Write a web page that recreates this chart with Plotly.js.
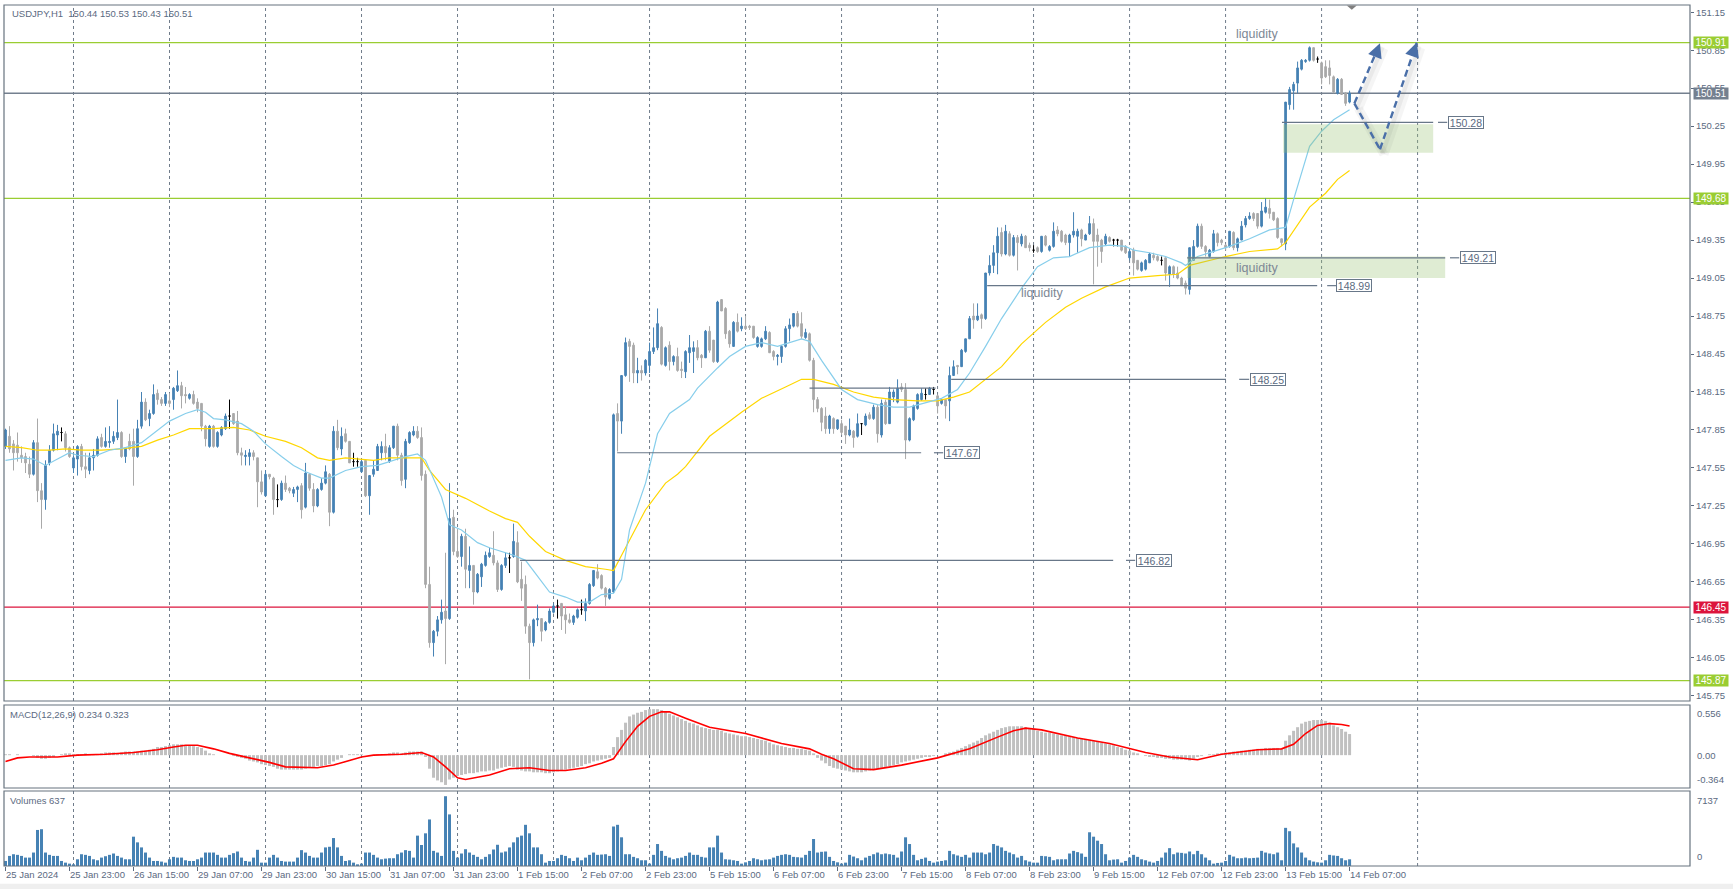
<!DOCTYPE html>
<html>
<head>
<meta charset="utf-8">
<script src="https://cdn.plot.ly/plotly-3.0.1.min.js"></script>
<style>
html,body{margin:0;padding:0;background:#ffffff;overflow:hidden;}
#chart{width:1733px;height:889px;}
</style>
</head>
<body>
<div id="chart"></div>
<script>
// ---------------- DATA ----------------
const symbolTitle = "USDJPY,H1\u00a0\u00a0150.44 150.53 150.43 150.51";
const macdTitle = "MACD(12,26,9) 0.234 0.323";
const volumeTitle = "Volumes 637";

const timeLabels = ["25 Jan 2024","25 Jan 23:00","26 Jan 15:00","29 Jan 07:00","29 Jan 23:00","30 Jan 15:00",
  "31 Jan 07:00","31 Jan 23:00","1 Feb 15:00","2 Feb 07:00","2 Feb 23:00","5 Feb 15:00","6 Feb 07:00",
  "6 Feb 23:00","7 Feb 15:00","8 Feb 07:00","8 Feb 23:00","9 Feb 15:00","12 Feb 07:00","12 Feb 23:00",
  "13 Feb 15:00","14 Feb 07:00"];
const timeLabelBars = [0,16,32,48,64,80,96,112,128,144,160,176,192,208,224,240,256,272,288,304,320,336];

const priceTicks = [151.15,150.85,150.55,150.25,149.95,149.65,149.35,149.05,148.75,148.45,148.15,147.85,
  147.55,147.25,146.95,146.65,146.35,146.05,145.75];

const open = [
147.72,147.80,147.74,147.73,147.65,147.64,147.58,147.50,147.75,147.37,147.30,147.59,147.69,147.81,147.83,147.82,
147.71,147.55,147.62,147.72,147.56,147.53,147.63,147.65,147.79,147.72,147.75,147.76,147.79,147.83,147.64,147.76,
147.76,147.64,147.88,148.07,147.94,147.98,148.14,148.09,148.06,148.08,148.09,148.16,148.20,148.13,148.10,148.13,
148.07,148.06,147.88,147.72,147.88,147.72,147.81,147.86,147.96,147.98,147.92,147.67,147.64,147.64,147.67,147.63,
147.44,147.33,147.50,147.47,147.30,147.30,147.43,147.39,147.35,147.38,147.41,147.24,147.50,147.38,147.25,147.38,
147.43,147.50,147.20,147.84,147.70,147.82,147.76,147.60,147.60,147.52,147.61,147.33,147.50,147.53,147.67,147.72,
147.60,147.71,147.88,147.65,147.46,147.75,147.81,147.84,147.79,147.50,146.63,146.17,146.26,146.35,146.42,146.36,
147.16,146.89,146.85,147.01,146.74,146.78,146.57,146.69,146.78,146.85,146.86,146.80,146.59,146.78,146.84,146.85,
146.96,146.67,146.63,146.30,146.17,146.35,146.36,146.27,146.33,146.41,146.46,146.48,146.39,146.35,146.33,146.37,
146.43,146.42,146.48,146.62,146.73,146.70,146.60,146.52,146.57,147.98,147.92,148.28,148.55,148.52,148.30,148.32,
148.30,148.36,148.47,148.50,148.66,148.36,148.52,148.39,148.43,148.33,148.31,148.46,148.47,148.50,148.44,148.42,
148.63,148.56,148.39,148.88,148.81,148.63,148.51,148.70,148.65,148.67,148.67,148.67,148.51,148.51,148.57,148.62,
148.47,148.43,148.43,148.51,148.65,148.67,148.77,148.69,148.58,148.61,148.40,148.09,148.02,147.96,147.86,147.94,
147.86,147.90,147.88,147.81,147.84,147.80,147.90,147.89,147.97,147.94,148.03,147.81,148.07,147.90,148.11,148.07,
148.19,148.17,147.77,147.93,148.02,148.09,148.13,148.13,148.17,148.12,148.06,148.09,148.08,148.28,148.36,148.35,
148.47,148.57,148.75,148.72,148.76,148.73,149.09,149.15,149.25,149.41,149.24,149.40,149.23,149.37,149.32,149.38,
149.31,149.27,149.29,149.26,149.38,149.27,149.30,149.43,149.42,149.39,149.33,149.39,149.38,149.43,149.35,149.40,
149.48,149.39,149.35,149.32,149.37,149.35,149.35,149.35,149.30,149.21,149.27,149.19,149.11,149.12,149.17,149.23,
149.22,149.19,149.21,149.08,149.14,149.09,149.05,149.01,148.96,149.19,149.30,149.46,149.30,149.22,149.26,149.40,
149.35,149.31,149.30,149.41,149.29,149.35,149.47,149.52,149.56,149.56,149.46,149.57,149.60,149.57,149.52,149.36,
149.32,150.42,150.53,150.59,150.70,150.76,150.77,150.87,150.78,150.75,150.72,150.71,150.64,150.51,150.62,150.51,
150.44];

const high = [
147.86,147.88,147.77,147.83,147.72,147.67,147.64,147.77,147.94,147.43,147.61,147.73,147.90,147.89,147.87,147.84,
147.72,147.65,147.73,147.74,147.67,147.67,147.70,147.80,147.82,147.87,147.88,147.84,148.09,147.84,147.71,147.82,
147.86,147.93,148.15,148.10,148.01,148.21,148.17,148.11,148.15,148.14,148.19,148.32,148.23,148.19,148.14,148.16,
148.10,148.06,147.89,147.89,147.89,147.84,147.88,147.98,148.09,147.98,148.00,147.71,147.69,147.70,147.69,147.63,
147.53,147.53,147.50,147.48,147.42,147.45,147.49,147.40,147.40,147.41,147.43,147.59,147.51,147.43,147.39,147.47,
147.57,147.51,147.88,147.93,147.87,147.86,147.76,147.67,147.63,147.61,147.61,147.49,147.61,147.74,147.76,147.82,
147.73,147.88,147.90,147.67,147.78,147.84,147.88,147.88,147.87,147.53,146.77,146.27,146.38,146.51,146.88,147.43,
147.22,147.07,147.03,147.07,146.93,146.78,146.72,146.80,146.89,146.92,147.05,146.82,146.79,146.88,146.88,147.11,
147.05,146.81,146.70,146.32,146.36,146.47,146.36,146.34,146.44,146.48,146.51,146.48,146.46,146.40,146.39,146.44,
146.51,146.52,146.64,146.74,146.79,146.71,146.61,146.60,147.98,148.06,148.28,148.58,148.57,148.54,148.42,148.36,
148.41,148.54,148.66,148.81,148.67,148.51,148.55,148.44,148.50,148.39,148.48,148.60,148.55,148.56,148.45,148.64,
148.67,148.56,148.87,148.88,148.82,148.64,148.71,148.77,148.74,148.75,148.68,148.67,148.59,148.58,148.67,148.63,
148.48,148.45,148.52,148.67,148.73,148.77,148.79,148.78,148.65,148.62,148.42,148.11,148.03,148.03,147.97,147.95,
147.93,147.93,147.88,147.94,147.85,147.98,147.90,147.98,147.99,148.05,148.05,148.09,148.09,148.19,148.17,148.25,
148.22,148.22,147.95,148.05,148.14,148.18,148.18,148.19,148.19,148.13,148.10,148.09,148.35,148.40,148.36,148.49,
148.57,148.75,148.85,148.85,148.77,149.09,149.23,149.31,149.45,149.45,149.47,149.42,149.39,149.39,149.40,149.39,
149.33,149.31,149.30,149.38,149.39,149.31,149.49,149.46,149.43,149.40,149.40,149.57,149.44,149.44,149.40,149.54,
149.52,149.44,149.36,149.40,149.38,149.36,149.36,149.35,149.31,149.27,149.29,149.19,149.18,149.20,149.25,149.25,
149.23,149.22,149.21,149.15,149.15,149.14,149.06,149.03,149.29,149.35,149.48,149.48,149.31,149.28,149.43,149.41,
149.36,149.32,149.42,149.42,149.37,149.50,149.54,149.57,149.57,149.56,149.65,149.68,149.67,149.57,149.53,149.36,
150.44,150.56,150.60,150.76,150.78,150.78,150.88,150.87,150.80,150.76,150.77,150.77,150.65,150.63,150.63,150.52,
150.53];

const low = [
147.70,147.67,147.53,147.60,147.59,147.51,147.47,147.49,147.28,147.07,147.22,147.57,147.68,147.69,147.76,147.68,
147.63,147.51,147.49,147.53,147.47,147.50,147.53,147.64,147.71,147.71,147.71,147.74,147.77,147.63,147.59,147.69,
147.41,147.63,147.86,147.92,147.88,147.97,148.05,148.04,148.04,148.03,148.01,148.15,148.02,148.06,148.09,148.05,
147.99,147.84,147.72,147.71,147.71,147.71,147.80,147.85,147.86,147.89,147.65,147.57,147.57,147.57,147.61,147.24,
147.34,147.32,147.46,147.18,147.24,147.29,147.36,147.35,147.32,147.28,147.15,147.23,147.37,147.20,147.24,147.37,
147.42,147.09,147.19,147.69,147.65,147.75,147.59,147.56,147.56,147.51,147.32,147.18,147.48,147.53,147.61,147.61,
147.59,147.70,147.61,147.41,147.39,147.74,147.80,147.78,147.45,146.60,146.13,146.06,146.22,146.32,146.00,146.35,
146.86,146.84,146.77,146.60,146.60,146.47,146.56,146.61,146.77,146.84,146.78,146.57,146.58,146.76,146.72,146.84,
146.64,146.50,146.24,145.88,146.14,146.30,146.18,146.26,146.32,146.40,146.36,146.27,146.24,146.32,146.31,146.36,
146.39,146.34,146.47,146.61,146.67,146.59,146.46,146.51,146.56,147.68,147.82,148.27,148.23,148.22,148.22,148.24,
148.28,148.30,148.45,148.48,148.36,148.35,148.32,148.36,148.31,148.26,148.26,148.38,148.30,148.40,148.34,148.42,
148.46,148.38,148.38,148.79,148.57,148.50,148.51,148.62,148.63,148.64,148.64,148.57,148.50,148.50,148.56,148.46,
148.40,148.36,148.38,148.50,148.55,148.66,148.66,148.57,148.57,148.39,147.99,147.99,147.84,147.82,147.82,147.82,
147.85,147.81,147.74,147.80,147.71,147.79,147.81,147.88,147.93,147.93,147.75,147.79,147.89,147.90,148.07,148.06,
148.15,147.62,147.76,147.92,148.01,148.08,148.09,148.13,148.13,147.98,148.05,147.94,147.92,148.28,148.29,148.35,
148.46,148.57,148.65,148.71,148.65,148.72,149.07,149.09,149.08,149.22,149.23,149.22,149.22,149.11,149.30,149.29,
149.26,149.25,149.25,149.25,149.30,149.26,149.29,149.38,149.33,149.31,149.22,149.37,149.25,149.30,149.35,149.39,
149.00,149.14,149.17,149.31,149.33,149.30,149.30,149.26,149.24,149.19,149.07,149.11,149.10,149.11,149.17,149.19,
149.18,149.15,149.03,148.98,149.05,149.04,148.99,148.92,148.92,149.19,149.29,149.28,149.22,149.21,149.25,149.30,
149.31,149.27,149.29,149.27,149.26,149.35,149.45,149.51,149.50,149.44,149.45,149.56,149.52,149.50,149.36,149.30,
149.27,150.38,150.38,150.51,150.69,150.75,150.76,150.76,150.75,150.58,150.63,150.58,150.51,150.50,150.50,150.41,
150.43];

const close = [
147.85,147.70,147.67,147.67,147.63,147.59,147.50,147.75,147.37,147.30,147.57,147.69,147.82,147.84,147.83,147.71,
147.64,147.63,147.72,147.56,147.54,147.63,147.65,147.78,147.72,147.76,147.76,147.80,147.83,147.64,147.71,147.70,
147.64,147.86,148.07,147.93,147.98,148.13,148.09,148.06,148.13,148.06,148.18,148.20,148.12,148.12,148.13,148.06,
148.02,147.88,147.78,147.88,147.72,147.83,147.87,147.96,147.96,147.90,147.67,147.65,147.65,147.67,147.64,147.44,
147.36,147.50,147.48,147.30,147.30,147.43,147.38,147.37,147.38,147.40,147.22,147.51,147.39,147.25,147.38,147.43,
147.52,147.20,147.84,147.71,147.80,147.76,147.59,147.60,147.60,147.60,147.33,147.49,147.54,147.72,147.72,147.67,
147.71,147.88,147.65,147.45,147.76,147.83,147.84,147.79,147.49,146.63,146.17,146.26,146.35,146.41,146.36,147.15,
146.89,146.85,147.01,146.75,146.78,146.57,146.71,146.79,146.86,146.88,146.80,146.59,146.78,146.84,146.84,146.97,
146.65,146.60,146.30,146.17,146.35,146.36,146.26,146.33,146.42,146.46,146.46,146.38,146.35,146.33,146.38,146.43,
146.43,146.48,146.63,146.74,146.68,146.60,146.53,146.59,147.97,147.92,148.28,148.54,148.51,148.30,148.32,148.30,
148.40,148.47,148.50,148.69,148.37,148.50,148.39,148.43,148.32,148.32,148.47,148.50,148.50,148.42,148.42,148.63,
148.48,148.39,148.86,148.79,148.61,148.53,148.70,148.63,148.67,148.65,148.66,148.58,148.58,148.57,148.63,148.46,
148.43,148.44,148.51,148.65,148.68,148.77,148.67,148.59,148.62,148.40,148.09,148.02,147.91,147.86,147.96,147.86,
147.93,147.83,147.81,147.85,147.79,147.90,147.90,147.96,147.94,148.03,147.82,148.06,147.90,148.15,148.15,148.18,
148.17,147.77,147.94,148.04,148.13,148.14,148.13,148.18,148.17,148.04,148.09,148.04,148.28,148.35,148.35,148.48,
148.57,148.73,148.72,148.75,148.73,149.09,149.15,149.25,149.38,149.24,149.42,149.23,149.37,149.33,149.38,149.29,
149.29,149.27,149.26,149.38,149.31,149.30,149.42,149.40,149.34,149.33,149.39,149.42,149.42,149.36,149.39,149.48,
149.34,149.34,149.26,149.38,149.34,149.35,149.35,149.27,149.25,149.26,149.17,149.12,149.17,149.19,149.24,149.21,
149.19,149.19,149.09,149.14,149.08,149.05,148.99,148.97,149.29,149.30,149.46,149.30,149.26,149.27,149.40,149.33,
149.33,149.29,149.42,149.29,149.36,149.46,149.52,149.54,149.52,149.46,149.58,149.61,149.56,149.51,149.37,149.33,
150.44,150.54,150.58,150.71,150.77,150.77,150.87,150.77,150.78,150.63,150.64,150.65,150.52,150.62,150.50,150.43,
150.51];

// moving averages (bar index, price)
const maFastBars = [0,4,7,10,13,16,18,22,26,30,34,38,41,45,48,50,52,55,59,62,65,69,72,75,79,81,83,85,89,93,96,100,103,105,
  109,111,114,118,121,125,127,130,133,136,140,143,146,149,152,154,156,160,163,166,171,173,178,181,185,189,193,196,199,201,
  204,209,213,218,222,226,231,234,238,241,245,249,254,258,262,266,271,276,280,282,286,290,294,295,298,302,306,311,316,318,
  320,322,324,326,329,332,336];
const maFastVals = [147.61,147.63,147.62,147.57,147.62,147.67,147.65,147.64,147.69,147.71,147.75,147.85,147.92,147.98,148.01,
  147.99,147.94,147.93,147.90,147.84,147.74,147.64,147.57,147.52,147.47,147.47,147.50,147.53,147.56,147.57,147.60,147.64,
  147.66,147.61,147.32,147.10,147.06,146.96,146.92,146.88,146.86,146.82,146.69,146.57,146.53,146.49,146.49,146.55,146.56,
  146.67,147.06,147.43,147.82,147.98,148.09,148.18,148.34,148.43,148.51,148.54,148.51,148.54,148.57,148.55,148.40,148.17,
  148.09,148.05,148.03,148.03,148.07,148.10,148.17,148.30,148.51,148.73,148.97,149.14,149.21,149.22,149.29,149.31,149.30,
  149.27,149.25,149.22,149.17,149.15,149.22,149.26,149.30,149.36,149.43,149.44,149.45,149.67,149.88,150.09,150.21,150.30,
  150.38];
const maSlowBars = [0,4,8,11,15,19,24,29,34,38,42,46,52,57,61,65,70,74,78,81,85,92,96,104,106,110,115,118,121,125,128,131,
  135,140,145,150,152,155,160,165,168,170,176,184,189,195,199,202,207,212,217,222,228,233,237,241,245,249,254,260,265,269,
  275,281,288,293,296,305,311,318,320,323,326,330,333,336];
const maSlowVals = [147.72,147.71,147.69,147.69,147.70,147.69,147.69,147.70,147.72,147.77,147.81,147.86,147.86,147.87,147.85,
  147.80,147.76,147.71,147.63,147.61,147.63,147.61,147.63,147.63,147.53,147.38,147.31,147.26,147.21,147.15,147.12,147.01,
  146.89,146.82,146.77,146.75,146.74,146.92,147.22,147.43,147.50,147.56,147.80,147.99,148.10,148.19,148.25,148.25,148.21,
  148.15,148.11,148.09,148.08,148.08,148.11,148.15,148.25,148.35,148.53,148.70,148.82,148.89,148.98,149.05,149.07,149.08,
  149.15,149.22,149.26,149.28,149.33,149.47,149.61,149.72,149.83,149.90];

// MACD main (histogram) per bar
const macdMain = [
0.01,0.01,0.00,0.01,0.00,0.00,0.00,-0.01,-0.03,-0.04,-0.04,-0.03,-0.02,0.00,0.01,0.02,
0.02,0.01,0.01,0.01,0.02,0.01,0.01,0.01,0.02,0.03,0.03,0.03,0.02,0.03,0.04,0.04,
0.04,0.04,0.05,0.05,0.06,0.07,0.09,0.09,0.10,0.11,0.12,0.12,0.12,0.11,0.11,0.10,
0.09,0.08,0.05,0.02,0.01,0.00,0.00,0.00,0.00,-0.01,-0.02,-0.03,-0.04,-0.06,-0.07,-0.08,
-0.10,-0.11,-0.12,-0.13,-0.15,-0.16,-0.16,-0.16,-0.16,-0.16,-0.16,-0.15,-0.14,-0.13,-0.12,-0.12,
-0.11,-0.10,-0.07,-0.05,-0.03,0.00,0.01,0.01,0.01,0.01,0.00,0.00,0.00,0.01,0.00,0.01,
0.02,0.03,0.03,0.02,0.03,0.04,0.04,0.04,0.04,-0.02,-0.15,-0.25,-0.28,-0.30,-0.33,-0.27,
-0.25,-0.23,-0.22,-0.21,-0.20,-0.20,-0.19,-0.18,-0.18,-0.17,-0.17,-0.15,-0.14,-0.13,-0.12,-0.13,
-0.16,-0.17,-0.18,-0.18,-0.19,-0.19,-0.19,-0.20,-0.20,-0.19,-0.18,-0.17,-0.16,-0.15,-0.14,-0.13,
-0.12,-0.10,-0.09,-0.07,-0.06,-0.05,-0.04,-0.03,0.09,0.20,0.28,0.36,0.43,0.45,0.47,0.48,
0.50,0.51,0.51,0.51,0.50,0.48,0.46,0.44,0.42,0.40,0.38,0.36,0.35,0.33,0.31,0.30,
0.29,0.28,0.28,0.27,0.25,0.24,0.23,0.22,0.21,0.21,0.20,0.19,0.18,0.17,0.16,0.14,
0.12,0.11,0.10,0.09,0.08,0.08,0.07,0.07,0.06,0.05,0.02,-0.03,-0.06,-0.09,-0.12,-0.14,
-0.15,-0.16,-0.17,-0.18,-0.19,-0.19,-0.19,-0.18,-0.17,-0.16,-0.15,-0.14,-0.13,-0.12,-0.11,-0.10,
-0.08,-0.07,-0.06,-0.05,-0.04,-0.03,-0.02,-0.02,-0.01,0.00,0.00,0.02,0.03,0.04,0.06,0.08,
0.10,0.12,0.14,0.16,0.19,0.22,0.24,0.26,0.28,0.30,0.31,0.32,0.32,0.32,0.32,0.31,
0.30,0.29,0.27,0.26,0.25,0.25,0.24,0.23,0.22,0.22,0.21,0.20,0.19,0.18,0.18,0.17,
0.16,0.15,0.14,0.13,0.12,0.11,0.09,0.08,0.06,0.05,0.03,0.02,0.00,-0.01,-0.02,-0.02,
-0.03,-0.03,-0.04,-0.04,-0.05,-0.05,-0.05,-0.05,-0.06,-0.04,-0.02,-0.01,0.00,0.01,0.01,0.02,
0.02,0.03,0.03,0.04,0.04,0.05,0.05,0.06,0.06,0.07,0.07,0.08,0.08,0.08,0.08,0.07,
0.16,0.22,0.27,0.31,0.35,0.37,0.38,0.39,0.39,0.39,0.38,0.36,0.33,0.31,0.29,0.26,
0.234];

// MACD signal line (bar index, value)
const signalBars = [0,3,6,13,18,25,32,38,42,45,48,52,56,61,66,70,75,78,82,85,89,92,99,104,107,110,113,115,121,126,131,136,
  140,145,149,152,155,158,161,164,166,170,176,185,194,201,204,207,212,217,224,233,241,248,252,255,259,268,276,285,291,298,
  304,313,319,322,325,328,331,334,336];
const signalVals = [-0.07,-0.03,-0.02,-0.02,0.00,0.01,0.03,0.06,0.09,0.11,0.11,0.07,0.02,-0.03,-0.08,-0.13,-0.14,-0.14,-0.11,
  -0.07,-0.02,0.00,0.01,0.03,-0.02,-0.13,-0.25,-0.27,-0.22,-0.15,-0.14,-0.17,-0.17,-0.14,-0.09,-0.04,0.15,0.32,0.43,0.48,
  0.48,0.41,0.31,0.24,0.13,0.07,0.01,-0.04,-0.15,-0.16,-0.11,-0.03,0.07,0.20,0.27,0.30,0.28,0.19,0.13,0.03,-0.02,-0.05,
  0.01,0.06,0.07,0.12,0.24,0.33,0.35,0.34,0.323];

const volume = [
480,960,1120,1060,960,800,800,1280,3430,3500,1280,1060,960,960,480,320,
225,160,640,1120,1060,960,640,545,800,930,1060,1190,960,800,640,640,
2790,2250,1770,1280,800,480,480,420,320,640,870,800,800,545,480,480,
640,800,1280,1280,1280,1060,800,800,1060,1220,1380,800,480,420,800,1540,
320,320,800,1060,800,480,420,420,420,800,1510,1280,960,800,800,1280,
1770,1830,2660,1770,960,480,545,320,160,225,1280,1280,1060,800,640,705,
740,740,1120,1280,1510,1440,800,2890,2000,3110,4430,1440,1280,960,6640,4910,
1440,800,1190,1600,1280,1060,870,640,870,1120,1570,2020,1280,1380,1770,2250,
2730,2890,3920,3110,1770,1770,1120,320,480,480,740,1060,960,740,480,800,
545,800,1060,1280,1060,1090,1120,960,3760,3920,2730,1120,1120,870,740,545,
545,225,1060,2090,1440,960,800,640,740,800,960,1280,1060,1060,870,800,
1770,1770,2890,1280,640,610,545,480,225,350,480,740,640,545,610,640,
800,960,1060,1120,1060,870,835,800,1060,1440,2570,1280,1350,1380,870,480,
350,225,320,1060,900,740,545,800,960,1120,1280,1120,1190,1120,1060,800,
1380,2730,2090,1060,545,675,800,480,320,420,480,545,1440,1120,1000,870,
1060,800,1280,1280,1280,1120,1280,2090,1930,1770,1440,1280,1120,800,960,545,
420,320,320,960,930,870,545,640,640,640,1190,1440,1320,1190,870,3210,
2790,2410,2090,1120,545,610,640,320,480,800,1060,870,640,545,420,320,
480,800,1280,1700,1120,1280,1250,1190,1380,1120,1440,1120,800,545,225,290,
320,480,1060,900,740,740,800,740,770,800,1440,1280,1190,1120,1280,545,
3630,3310,2150,1770,1280,800,545,420,350,320,545,1060,1000,960,740,545,
637];

// horizontal levels (price) and the level kind
const levelPrices = [150.91, 150.51, 149.68, 146.45, 145.87];
const levelKinds  = ['green', 'bid', 'green', 'red', 'green'];
// labelled trend levels
const trendPrices = [150.28, 149.21, 148.99, 148.25, 147.67, 146.82];
const trendTexts  = ['150.28', '149.21', '148.99', '148.25', '147.67', '146.82'];
const plainLinePrice = 148.18;
// liquidity zones [bottom, top]
const zoneLow  = [150.04, 149.05];
const zoneHigh = [150.265, 149.22];
// forecast path prices
const forecastUpPrices = [150.43, 150.905];
const forecastVPrices  = [150.43, 150.067, 150.91];
const macdAxisLabels = ['0.556', '0.00', '-0.364'];
const macdAxisValues = [0.556, 0, -0.364];
const volumeMax = 7137;

// ---------------- LAYOUT CONSTANTS (positions / styles) ----------------
const C_BULL = '#4682B4', C_BEAR = '#A9A9A9', C_DOJI = '#000000';
const TXT = '#5b6a7f', FRAME = '#67737f', GRID = '#6f7b8a';
const GREEN = '#9ACD32', RED = '#DC143C', BID = '#74808f', TREND = '#687789';
const FONT = 'Liberation Sans, Arial, sans-serif';
const dom = {price: [0.19164, 1], macd: [0.09059, 0.18699], vol: [0, 0.08711]};
const gridBars = [17,41,65,89,113,137,161,185,209,233,257,281,305,329,353];
const trendGeom = [ // start bar, end bar, small segment start/end, label box start
  {from:319.1, to:356.9, s0:358.1, s1:360.4, box:360.6},
  {from:295.4, to:359.9, s0:361.1, s1:363.4, box:363.6},
  {from:245.4, to:327.9, s0:330.4, s1:332.6, box:332.6},
  {from:236.4, to:305.1, s0:308.4, s1:310.9, box:311.1},
  {from:152.9, to:228.9, s0:232.1, s1:234.4, box:234.6},
  {from:128.6, to:276.9, s0:280.1, s1:282.4, box:282.6}
];
const plainLineGeom = {from:201, to:232.5};
const zoneGeom = [{from:319.4, to:356.9}, {from:295.4, to:359.9}];
const forecastUpBars = [337.2, 343.6];
const forecastVBars  = [337.2, 343.6, 352.8];

// ---------------- TRACES ----------------
const n = close.length;
const bars = Array.from({length: n}, (_, i) => i);
function candles(test, color) {
  const sel = arr => arr.map((v, i) => test(i) ? v : null);
  return {
    type: 'candlestick', x: bars, open: sel(open), high: sel(high), low: sel(low), close: sel(close),
    xaxis: 'x', yaxis: 'y', whiskerwidth: 0, hoverinfo: 'skip', showlegend: false,
    increasing: {line: {color: color, width: 1}, fillcolor: color},
    decreasing: {line: {color: color, width: 1}, fillcolor: color}
  };
}
const traces = [
  candles(i => close[i] > open[i], C_BULL),
  candles(i => close[i] < open[i], C_BEAR),
  candles(i => close[i] === open[i], C_DOJI),
  {type: 'scatter', mode: 'lines', x: maSlowBars, y: maSlowVals, xaxis: 'x', yaxis: 'y',
   line: {color: '#FFD700', width: 1.2}, hoverinfo: 'skip', showlegend: false},
  {type: 'scatter', mode: 'lines', x: maFastBars, y: maFastVals, xaxis: 'x', yaxis: 'y',
   line: {color: '#87CEEB', width: 1.2}, hoverinfo: 'skip', showlegend: false},
  {type: 'bar', x: bars, y: macdMain, xaxis: 'x', yaxis: 'y2', marker: {color: '#C0C0C0', line: {width: 0}},
   hoverinfo: 'skip', showlegend: false},
  {type: 'scatter', mode: 'lines', x: signalBars, y: signalVals, xaxis: 'x', yaxis: 'y2',
   line: {color: '#FF0000', width: 1.6}, hoverinfo: 'skip', showlegend: false},
  {type: 'bar', x: bars, y: volume, xaxis: 'x', yaxis: 'y3', marker: {color: C_BULL, line: {width: 0}},
   hoverinfo: 'skip', showlegend: false}
];

// ---------------- SHAPES ----------------
const shapes = [];
// bottom status strip (behind the axis labels)
shapes.push({type: 'rect', xref: 'paper', yref: 'paper', x0: -0.01, x1: 1.03, y0: -0.0205, y1: -0.03,
  fillcolor: '#efefef', line: {width: 0}, layer: 'below'});
gridBars.forEach(b => {
  Object.values(dom).forEach(d => shapes.push({type: 'line', xref: 'x', yref: 'paper', x0: b, x1: b, y0: d[0], y1: d[1],
    line: {color: GRID, width: 1, dash: '3px,3px'}, layer: 'below'}));
});
const kindColor = {green: GREEN, red: RED, bid: BID};
levelPrices.forEach((p, k) => shapes.push({type: 'line', xref: 'paper', yref: 'y', x0: 0, x1: 1, y0: p, y1: p,
  line: {color: kindColor[levelKinds[k]], width: 1.3}, layer: 'below'}));
zoneLow.forEach((lo, k) => shapes.push({type: 'rect', xref: 'x', yref: 'y', x0: zoneGeom[k].from, x1: zoneGeom[k].to,
  y0: lo, y1: zoneHigh[k], fillcolor: 'rgba(148,192,108,0.30)', line: {width: 0}, layer: 'above'}));
trendPrices.forEach((p, k) => {
  const g = trendGeom[k];
  shapes.push({type: 'line', xref: 'x', yref: 'y', x0: g.from, x1: g.to, y0: p, y1: p, line: {color: TREND, width: 1.2}, layer: 'above'});
  shapes.push({type: 'line', xref: 'x', yref: 'y', x0: g.s0, x1: g.s1, y0: p, y1: p, line: {color: TREND, width: 1.2}, layer: 'above'});
});
shapes.push({type: 'line', xref: 'x', yref: 'y', x0: plainLineGeom.from, x1: plainLineGeom.to, y0: plainLinePrice, y1: plainLinePrice,
  line: {color: TREND, width: 1.2}, layer: 'above'});
// forecast path: soft shadow then dashed line
function pathLine(xs, ys, dx, dy, color, width, dash) {
  for (let k = 0; k < xs.length - 1; k++) {
    shapes.push({type: 'line', xref: 'x', yref: 'y', x0: xs[k] + dx, x1: xs[k + 1] + dx, y0: ys[k] + dy, y1: ys[k + 1] + dy,
      line: {color: color, width: width, dash: dash}, layer: 'above'});
  }
}
pathLine(forecastUpBars, forecastUpPrices, 1.0, -0.04, 'rgba(90,90,90,0.06)', 9, 'solid');
pathLine(forecastVBars, forecastVPrices, 1.0, -0.04, 'rgba(90,90,90,0.06)', 9, 'solid');
pathLine(forecastUpBars, forecastUpPrices, 0.7, -0.03, 'rgba(90,90,90,0.07)', 4, 'solid');
pathLine(forecastVBars, forecastVPrices, 0.7, -0.03, 'rgba(90,90,90,0.07)', 4, 'solid');
pathLine(forecastUpBars, forecastUpPrices, 0, 0, '#4a6fa8', 2.4, '7px,4px');
pathLine(forecastVBars, forecastVPrices, 0, 0, '#4a6fa8', 2.4, '7px,4px');
// panel frames
Object.values(dom).forEach(d => shapes.push({type: 'rect', xref: 'paper', yref: 'paper', x0: 0, x1: 1, y0: d[0], y1: d[1],
  line: {color: FRAME, width: 1.2}, fillcolor: 'rgba(0,0,0,0)', layer: 'above'}));
// chart-shift marker
shapes.push({type: 'path', xref: 'x', yref: 'paper', path: 'M 335.3 0.9995 L 337.8 0.9995 L 336.55 0.9946 Z',
  fillcolor: '#7f7f7f', line: {width: 0}, layer: 'above'});

// ---------------- ANNOTATIONS ----------------
const ann = [];
const txt = (text, x, y, opts) => Object.assign({text: text, x: x, y: y, xref: 'paper', yref: 'paper', showarrow: false,
  xanchor: 'left', yanchor: 'middle', font: {family: FONT, size: 9.5, color: TXT}}, opts || {});
ann.push(txt(symbolTitle, 0.0035, 0.9905));
ann.push(txt(macdTitle, 0.0025, 0.1765));
ann.push(txt(volumeTitle, 0.0025, 0.0755));
const kindBg = {green: GREEN, red: RED, bid: BID};
levelPrices.forEach((p, k) => ann.push({text: p.toFixed(2), x: 1.0017, y: p, xref: 'paper', yref: 'y', showarrow: false,
  xanchor: 'left', yanchor: 'middle', bgcolor: kindBg[levelKinds[k]], width: 34, height: 11, borderpad: 0,
  font: {family: FONT, size: 10, color: '#ffffff'}}));
trendTexts.forEach((t, k) => ann.push({text: t, x: trendGeom[k].box, y: trendPrices[k], xref: 'x', yref: 'y', showarrow: false,
  xanchor: 'left', yanchor: 'middle', bgcolor: '#ffffff', bordercolor: TREND, borderwidth: 1, borderpad: 0, width: 34, height: 11,
  font: {family: FONT, size: 10.5, color: TXT}}));
// liquidity texts
const liqFont = {family: FONT, size: 12.5, color: '#7d8795'};
ann.push({text: 'liquidity', x: 312.9, y: 150.978, xref: 'x', yref: 'y', showarrow: false, xanchor: 'center', yanchor: 'middle', font: liqFont});
ann.push({text: 'liquidity', x: 312.9, y: 149.13, xref: 'x', yref: 'y', showarrow: false, xanchor: 'center', yanchor: 'middle', font: liqFont});
ann.push({text: 'liquidity', x: 259.0, y: 148.93, xref: 'x', yref: 'y', showarrow: false, xanchor: 'center', yanchor: 'middle', font: liqFont});
// arrow heads of forecast path
ann.push({x: forecastUpBars[1], y: forecastUpPrices[1], ax: forecastUpBars[1] - 0.9, ay: forecastUpPrices[1] - 0.075,
  xref: 'x', yref: 'y', axref: 'x', ayref: 'y', text: '', showarrow: true, arrowhead: 2, arrowsize: 1.3, arrowwidth: 2.2, arrowcolor: '#4a6fa8'});
ann.push({x: forecastVBars[2], y: forecastVPrices[2], ax: forecastVBars[2] - 1.0, ay: forecastVPrices[2] - 0.09,
  xref: 'x', yref: 'y', axref: 'x', ayref: 'y', text: '', showarrow: true, arrowhead: 2, arrowsize: 1.3, arrowwidth: 2.2, arrowcolor: '#4a6fa8'});
// MACD & volume scale labels
const macdAnchors = ['top', 'middle', 'bottom'];
macdAxisLabels.forEach((t, k) => ann.push({text: t, x: 1.003, y: macdAxisValues[k], xref: 'paper', yref: 'y2', showarrow: false,
  xanchor: 'left', yanchor: macdAnchors[k], yshift: k === 0 ? -1 : (k === 2 ? 1 : 0), font: {family: FONT, size: 9.5, color: TXT}}));
ann.push({text: String(volumeMax), x: 1.003, y: volumeMax, xref: 'paper', yref: 'y3', showarrow: false, xanchor: 'left', yanchor: 'top',
  yshift: -2, font: {family: FONT, size: 9.5, color: TXT}});
ann.push({text: '0', x: 1.003, y: 0, xref: 'paper', yref: 'y3', showarrow: false, xanchor: 'left', yanchor: 'bottom',
  yshift: 2, font: {family: FONT, size: 9.5, color: TXT}});

// ---------------- LAYOUT ----------------
const layout = {
  width: 1733, height: 889,
  margin: {l: 4, r: 43, t: 5, b: 23, pad: 0},
  paper_bgcolor: '#ffffff', plot_bgcolor: '#ffffff',
  showlegend: false, hovermode: false, dragmode: false,
  bargap: 0.25, boxgap: 0.4,
  font: {family: FONT, size: 9.5, color: TXT},
  xaxis: {
    range: [-0.375, 421.1], anchor: 'y3', showgrid: false, zeroline: false, showline: false,
    rangeslider: {visible: false}, fixedrange: true,
    tickmode: 'array', tickvals: timeLabelBars, ticktext: timeLabels, tickangle: 0,
    ticks: 'outside', ticklen: 4, tickcolor: TXT, tickwidth: 1,
    ticklabelposition: 'outside right', ticklabelstandoff: 0, tickfont: {family: FONT, size: 9.5, color: TXT}
  },
  yaxis: {
    domain: dom.price, range: [145.709, 151.207], side: 'right', anchor: 'x', showgrid: false, zeroline: false,
    tickmode: 'array', tickvals: priceTicks, ticktext: priceTicks.map(v => v.toFixed(2)),
    ticks: 'outside', ticklen: 3, tickcolor: TXT, tickfont: {family: FONT, size: 9.5, color: TXT}, fixedrange: true
  },
  yaxis2: {domain: dom.macd, range: [-0.364, 0.556], side: 'right', anchor: 'x', showgrid: false, zeroline: false,
    showticklabels: false, ticks: '', fixedrange: true},
  yaxis3: {domain: dom.vol, range: [0, volumeMax], side: 'right', anchor: 'x', showgrid: false, zeroline: false,
    showticklabels: false, ticks: '', fixedrange: true},
  shapes: shapes,
  annotations: ann
};

Plotly.newPlot('chart', traces, layout, {staticPlot: true, displayModeBar: false});
</script>
</body>
</html>
